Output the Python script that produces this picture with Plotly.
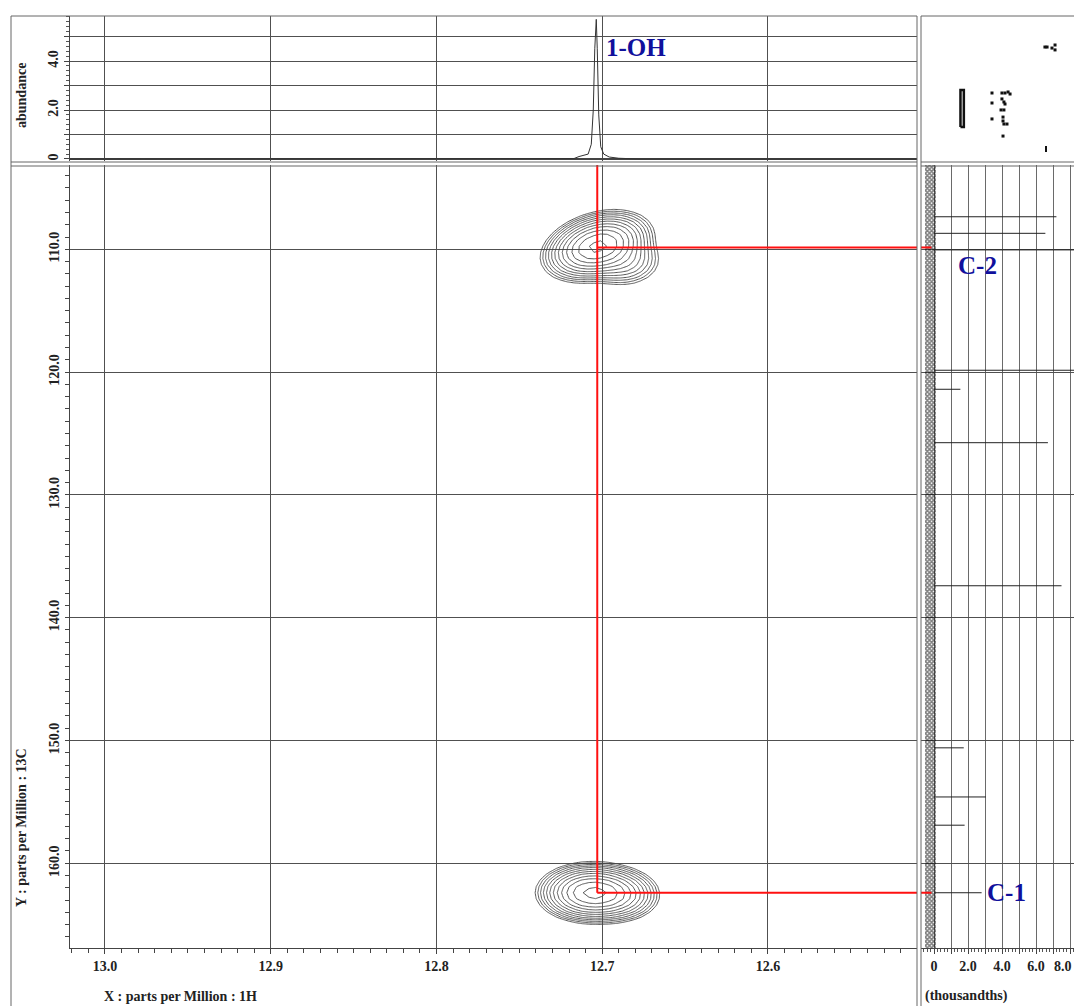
import numpy as np
import plotly.graph_objects as go

W, H = 1074, 1006
FONT = "Liberation Serif"
INK = "#222222"
BLUE = "#10109c"

# ---- data -------------------------------------------------------------
# 1H projection (ppm, abundance) traced along the single OH resonance
h_ppm = [13.0211, 12.740, 12.726, 12.717, 12.714, 12.711, 12.7085, 12.7066,
         12.7054, 12.7045, 12.7036, 12.7030, 12.7021, 12.7009, 12.6991,
         12.6958, 12.690, 12.678, 12.5101]
h_abund = [0.0, 0.0, 0.0, 0.02, 0.10, 0.15, 0.20, 0.60,
           2.0, 4.5, 5.7, 4.5, 1.8, 0.5, 0.2,
           0.08, 0.03, 0.0, 0.0]

# 13C projection: peak positions (ppm) and heights (thousandths)
c_ppm = [107.35, 108.7, 110.05, 119.85, 121.4, 125.75, 137.4,
         150.6, 154.6, 156.9, 162.4]
c_height = [7.2, 6.55, 9.5, 9.5, 1.55, 6.7, 7.5,
            1.75, 3.05, 1.8, 2.8]
c_tick_vals = [0, 1, 2, 3, 4, 5, 6, 7, 8]
c_tick_text = ["0", "", "2.0", "", "4.0", "", "6.0", "", "8.0"]

# HMBC cross peaks, each built from lineshape components:
# (1H ppm, 13C ppm, 1H width, 13C width, amplitude, correlation)
cross_peaks = {
    "C-2": [(12.703, 109.75, 0.0115, 1.0, 1.0, -0.3),
            (12.688, 110.9, 0.0100, 0.9, 0.12, 0.0)],
    "C-1": [(12.706, 162.4, 0.0115, 0.85, 1.0, 0.0),
            (12.690, 162.6, 0.0100, 0.85, 0.20, 0.0)],
}
cross_label_c = {"C-2": 109.85, "C-1": 162.4}
oh_ppm = 12.703

# overview thumbnail (fractions of the thumbnail box)
thumb_x = [0.464, 0.529, 0.549, 0.569, 0.582, 0.464, 0.529, 0.542, 0.549,
           0.523, 0.542, 0.464, 0.536, 0.536, 0.542, 0.562, 0.536,
           0.810, 0.824, 0.856, 0.876, 0.876]
thumb_y = [0.469, 0.469, 0.469, 0.476, 0.462, 0.400, 0.428, 0.407, 0.393,
           0.352, 0.352, 0.290, 0.303, 0.276, 0.255, 0.255, 0.172,
           0.786, 0.786, 0.779, 0.800, 0.766]

# ---- axis ranges ------------------------------------------------------
X_RANGE = [13.0211, 12.5101]
Y_RANGE = [166.9, 103.136]
TOP_RANGE = [-0.082, 5.837]
RIGHT_RANGE = [-0.765, 8.235]


def px(x):
    return x / W


def py(y):
    return 1 - y / H


fig = go.Figure()

# ---- cross-peak contours ---------------------------------------------
for name, comps in cross_peaks.items():
    h0, c0 = comps[0][0], comps[0][1]
    gx = np.arange(h0 - 0.07, h0 + 0.07, 0.004)
    gy = np.arange(c0 - 6.0, c0 + 6.0, 0.5)
    XX, YY = np.meshgrid(gx, gy)
    Z = np.zeros_like(XX)
    for (hc, cc, sh, sc, amp, rho) in comps:
        u = (XX - hc) / sh
        v = (YY - cc) / sc
        Z += amp * np.exp(-0.5 * (u * u + v * v + 2 * rho * u * v) / (1 - rho * rho))
    fig.add_trace(go.Contour(
        x=gx, y=gy, z=np.log(Z + 1e-12),
        autocontour=False,
        contours=dict(coloring="lines", start=-4.5, end=-0.1, size=0.4),
        colorscale=[[0, "#444444"], [1, "#444444"]],
        line=dict(width=0.9, smoothing=0),
        showscale=False, hoverinfo="skip",
        xaxis="x", yaxis="y"))

# ---- correlation markers (red) ---------------------------------------
fig.add_trace(go.Scatter(
    x=[oh_ppm, oh_ppm], y=[Y_RANGE[1], cross_label_c["C-1"]],
    mode="lines", line=dict(color="#ff1010", width=2),
    hoverinfo="skip", xaxis="x", yaxis="y"))
for name, cval in cross_label_c.items():
    fig.add_trace(go.Scatter(
        x=[oh_ppm, X_RANGE[1]], y=[cval, cval],
        mode="lines", line=dict(color="#ff1010", width=2),
        hoverinfo="skip", xaxis="x", yaxis="y"))
    fig.add_trace(go.Scatter(
        x=[RIGHT_RANGE[0], -0.15], y=[cval, cval],
        mode="lines", line=dict(color="#ff1010", width=2),
        hoverinfo="skip", xaxis="x3", yaxis="y3"))

# ---- 1H projection ----------------------------------------------------
fig.add_trace(go.Scatter(
    x=h_ppm, y=h_abund, mode="lines",
    line=dict(color="#333333", width=1),
    hoverinfo="skip", xaxis="x2", yaxis="y2"))

# ---- 13C projection ---------------------------------------------------
# baseline noise band
fig.add_trace(go.Bar(
    orientation="h", y=[135.0], x=[0.62], base=[-0.52], width=[64.0],
    marker=dict(color="rgba(255,255,255,0)", line=dict(width=0),
                pattern=dict(shape="x", fgcolor="#000000", size=3,
                             solidity=0.75)),
    hoverinfo="skip", xaxis="x3", yaxis="y3"))
stick_x, stick_y = [], []
for p, h in zip(c_ppm, c_height):
    stick_x += [0, h, None]
    stick_y += [p, p, None]
fig.add_trace(go.Scatter(
    x=stick_x, y=stick_y, mode="lines",
    line=dict(color="#222222", width=1),
    hoverinfo="skip", xaxis="x3", yaxis="y3"))

# ---- overview thumbnail ----------------------------------------------
fig.add_trace(go.Scatter(
    x=thumb_x, y=thumb_y, mode="markers",
    marker=dict(symbol="square", size=3, color="#111111"),
    hoverinfo="skip", xaxis="x4", yaxis="y4"))
fig.add_trace(go.Scatter(
    x=[0.817, 0.817], y=[0.103, 0.062], mode="lines",
    line=dict(color="#111111", width=2),
    hoverinfo="skip", xaxis="x4", yaxis="y4"))
fig.add_trace(go.Scatter(
    x=[0.258, 0.280, 0.280, 0.258, 0.258], y=[0.234, 0.234, 0.49, 0.49, 0.234],
    mode="lines", line=dict(color="#111111", width=2.5),
    hoverinfo="skip", xaxis="x4", yaxis="y4"))

# ---- layout -----------------------------------------------------------
tick_font = dict(family=FONT, size=14, color=INK, weight="bold")
GRID = "#505050"

fig.update_layout(
    width=W, height=H,
    margin=dict(l=0, r=0, t=0, b=0),
    paper_bgcolor="white", plot_bgcolor="white",
    showlegend=False,
    font=dict(family=FONT, color=INK),
    xaxis=dict(
        domain=[px(70), px(917)], range=X_RANGE, anchor="y",
        tickmode="array", tickvals=[13.0, 12.9, 12.8, 12.7, 12.6],
        ticktext=["13.0", "12.9", "12.8", "12.7", "12.6"],
        ticks="outside", ticklen=5, tickcolor="#444", tickwidth=1,
        minor=dict(ticks="outside", ticklen=4, dtick=0.01, tick0=12.6,
                   tickcolor="#444", showgrid=False),
        showgrid=True, gridcolor=GRID, gridwidth=1,
        showline=True, linecolor="#444", linewidth=1,
        tickfont=tick_font, zeroline=False),
    yaxis=dict(
        domain=[py(948), py(165)], range=Y_RANGE, anchor="x",
        tickmode="array", tickvals=[110, 120, 130, 140, 150, 160],
        ticktext=["110.0", "120.0", "130.0", "140.0", "150.0", "160.0"],
        tickangle=-90,
        ticks="outside", ticklen=4, tickcolor="#444",
        minor=dict(ticks="outside", ticklen=4, dtick=1, tick0=100,
                   tickcolor="#444", showgrid=False),
        showgrid=True, gridcolor=GRID, gridwidth=1,
        showline=True, linecolor="#444", linewidth=1,
        tickfont=tick_font, zeroline=False),
    xaxis2=dict(
        domain=[px(70), px(917)], range=X_RANGE, anchor="y2",
        tickmode="array", tickvals=[13.0, 12.9, 12.8, 12.7, 12.6],
        showticklabels=False, ticks="",
        showgrid=True, gridcolor=GRID, gridwidth=1,
        showline=False, zeroline=False),
    yaxis2=dict(
        domain=[py(161), py(16)], range=TOP_RANGE, anchor="x2",
        tickmode="array", tickvals=[0, 1, 2, 3, 4, 5],
        ticktext=["0", "", "2.0", "", "4.0", ""],
        tickangle=-90,
        ticks="outside", ticklen=5, tickcolor="#444",
        minor=dict(ticks="outside", ticklen=3, dtick=0.2, tick0=0,
                   tickcolor="#555", showgrid=False),
        showgrid=True, gridcolor=GRID, gridwidth=1,
        showline=True, linecolor="#444", linewidth=1,
        tickfont=tick_font, zeroline=True, zerolinecolor="#444",
        zerolinewidth=1.5),
    xaxis3=dict(
        domain=[px(921), 1.0], range=RIGHT_RANGE, anchor="y3",
        tickmode="array", tickvals=c_tick_vals,
        ticktext=c_tick_text[:-1] + [""],
        ticks="outside", ticklen=5, tickcolor="#444",
        minor=dict(ticks="outside", ticklen=3, dtick=0.2, tick0=0,
                   tickcolor="#555", showgrid=False),
        showgrid=True, gridcolor="#6a6a6a", gridwidth=1,
        showline=True, linecolor="#444", linewidth=1,
        tickfont=tick_font, zeroline=False),
    yaxis3=dict(
        domain=[py(948), py(165)], range=Y_RANGE, anchor="x3",
        tickmode="array", tickvals=[110, 120, 130, 140, 150, 160],
        showticklabels=False, ticks="",
        showgrid=True, gridcolor=GRID, gridwidth=1,
        showline=False, zeroline=False),
    xaxis4=dict(domain=[px(921), 1.0], range=[0, 1], anchor="y4",
                visible=False),
    yaxis4=dict(domain=[py(161), py(16)], range=[0, 1], anchor="x4",
                visible=False),
    bargap=0,
)

# last 13C tick label sits on the page edge: keep it inside the page
fig.add_annotation(x=1.0, y=py(966), xref="paper", yref="paper",
                   text=c_tick_text[-1], showarrow=False, xanchor="right",
                   yanchor="middle", font=tick_font)

# ---- panel frames -----------------------------------------------------
FRAME = dict(color="#666666", width=1)
frame_lines = [
    # left block: 1H projection + 2D map
    (11, 16, 11, 1006), (917, 16, 917, 1006),
    (11, 16, 917, 16), (11, 162, 917, 162), (11, 166, 917, 166),
    # right block: overview + 13C projection
    (921, 16, 921, 1006),
    (921, 16, 1074, 16), (921, 162, 1074, 162), (921, 166, 1074, 166),
]
for x0, y0, x1, y1 in frame_lines:
    fig.add_shape(type="line", xref="paper", yref="paper",
                  x0=px(x0), y0=py(y0), x1=px(x1), y1=py(y1), line=FRAME)

# ---- labels -----------------------------------------------------------
peak_font = dict(family=FONT, size=25, color=BLUE, weight="bold")
fig.add_annotation(x=px(604), y=py(48), xref="paper", yref="paper",
                   text="1-OH", showarrow=False, xanchor="left",
                   yanchor="middle", font=peak_font)
fig.add_annotation(x=px(977), y=py(266), xref="paper", yref="paper",
                   text="C-2", showarrow=False, xanchor="center",
                   yanchor="middle", font=peak_font)
fig.add_annotation(x=px(1006), y=py(892), xref="paper", yref="paper",
                   text="C-1", showarrow=False, xanchor="center",
                   yanchor="middle", font=peak_font)

title_font = dict(family=FONT, size=14, color=INK, weight="bold")
titles = [
    (21, 96, "abundance", -90),
    (21, 828, "Y : parts per Million : 13C", -90),
    (180, 996, "X : parts per Million : 1H", 0),
    (966, 996, "(thousandths)", 0),
]
for x, y, text, angle in titles:
    fig.add_annotation(x=px(x), y=py(y), xref="paper", yref="paper",
                       text=text, textangle=angle, showarrow=False,
                       xanchor="center", yanchor="middle", font=title_font)

fig.write_html("out.html")
